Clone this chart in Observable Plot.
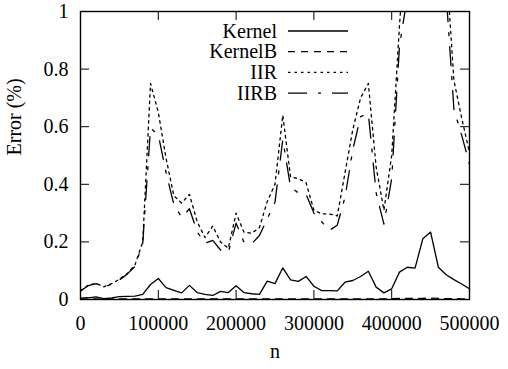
<!DOCTYPE html>
<html><head><meta charset="utf-8">
<script src="https://cdn.jsdelivr.net/npm/d3@7"></script>
<script src="https://cdn.jsdelivr.net/npm/@observablehq/plot@0.6"></script>
<style>body{margin:0;background:#fff} svg{display:block} svg text{font-family:"Liberation Serif","Times New Roman",serif !important;}</style>
</head><body><div id="chart"></div>
<script>
const n = [0,10000,20000,30000,40000,50000,60000,70000,80000,90000,
  100000,110000,120000,130000,140000,150000,160000,170000,180000,190000,
  200000,210000,220000,230000,240000,250000,260000,270000,280000,290000,
  300000,310000,320000,330000,340000,350000,360000,370000,380000,390000,
  400000,410000,420000,430000,440000,450000,460000,470000,480000,490000,500000];
const kernel = [0.005,0.006,0.009,0.003,0.006,0.010,0.011,0.012,0.018,0.052,
  0.073,0.041,0.032,0.023,0.049,0.024,0.018,0.014,0.028,0.024,
  0.048,0.024,0.020,0.018,0.064,0.055,0.110,0.068,0.063,0.080,
  0.046,0.031,0.031,0.030,0.060,0.066,0.080,0.098,0.043,0.023,
  0.037,0.095,0.112,0.109,0.211,0.234,0.112,0.086,0.069,0.054,0.037];
const kernelB = [0.001,0.001,0.002,0.001,0.002,0.002,0.002,0.002,0.002,0.002,
  0.002,0.002,0.002,0.002,0.002,0.002,0.002,0.002,0.002,0.002,
  0.002,0.002,0.002,0.002,0.002,0.002,0.002,0.002,0.002,0.002,
  0.002,0.002,0.002,0.002,0.002,0.002,0.002,0.002,0.002,0.002,
  0.003,0.004,0.004,0.004,0.004,0.005,0.004,0.003,0.003,0.002,0.002];
const iir = [0.030,0.050,0.056,0.044,0.055,0.070,0.090,0.120,0.200,0.750,
  0.650,0.490,0.360,0.335,0.365,0.270,0.215,0.255,0.200,0.178,
  0.300,0.234,0.230,0.250,0.340,0.400,0.640,0.425,0.420,0.405,
  0.310,0.297,0.297,0.290,0.440,0.590,0.700,0.750,0.460,0.310,
  0.500,0.950,1.350,1.600,1.800,1.700,1.400,1.170,0.760,0.630,0.510];
const iirb = [0.030,0.048,0.055,0.043,0.053,0.068,0.088,0.115,0.195,0.595,
  0.572,0.440,0.330,0.285,0.315,0.235,0.195,0.205,0.172,0.164,
  0.265,0.200,0.193,0.222,0.280,0.338,0.555,0.390,0.370,0.365,
  0.300,0.270,0.240,0.258,0.355,0.520,0.635,0.645,0.370,0.262,
  0.420,0.880,1.050,1.400,1.600,1.500,1.300,1.060,0.660,0.570,0.470];
const seriesNames = ["Kernel","KernelB","IIR","IIRB"];
const seriesValues = [kernel, kernelB, iir, iirb];
const seriesDash = [null, "7,6", "2.5,4", "19,11,3,11"];
const xTicks = [0,100000,200000,300000,400000,500000];
const xTickLabels = ["0","100000","200000","300000","400000","500000"];
const yTicks = [0,0.2,0.4,0.6,0.8,1];
const yTickLabels = ["0","0.2","0.4","0.6","0.8","1"];

const FONT = '"Liberation Serif", "Times New Roman", serif';
const W = 508, H = 369, mL = 80, mR = 39, mT = 11, mB = 70, tickLen = 9;
const plotW = W - mL - mR, plotH = H - mT - mB;

const lineMarks = seriesNames.map((name, s) =>
  Plot.lineY(n.map((x, i) => ({n: x, v: seriesValues[s][i]})), {
    x: "n", y: "v", clip: true, stroke: "black", strokeWidth: 1.3,
    strokeDasharray: seriesDash[s] || undefined
  }));

const chart = Plot.plot({
  width: W, height: H,
  marginLeft: mL, marginRight: mR, marginTop: mT, marginBottom: mB,
  style: {fontFamily: FONT, fontSize: "20px", background: "white", color: "black"},
  x: {domain: [0, 500000]},
  y: {domain: [0, 1]},
  marks: [
    Plot.axisX(xTicks, {tickSize: 0, tickPadding: 16, fontFamily: FONT, tickFormat: (d) => xTickLabels[xTicks.indexOf(d)], label: null}),
    Plot.axisY(yTicks, {tickSize: 0, tickPadding: 12, fontFamily: FONT, tickFormat: (d) => yTickLabels[yTicks.indexOf(d)], label: null}),
    Plot.ruleX(xTicks, {x: (d) => d, insetTop: plotH - tickLen, stroke: "black"}),
    Plot.ruleX(xTicks, {x: (d) => d, insetBottom: plotH - tickLen, stroke: "black"}),
    Plot.ruleY(yTicks, {y: (d) => d, insetRight: plotW - tickLen, stroke: "black"}),
    Plot.ruleY(yTicks, {y: (d) => d, insetLeft: plotW - tickLen, stroke: "black"}),
    ...lineMarks,
    Plot.frame({stroke: "black", strokeWidth: 1.4}),
    Plot.text(["Error (%)"], {frameAnchor: "left", rotate: -90, dx: -66, text: (d) => d, fill: "black", fontFamily: FONT}),
    Plot.text(["n"], {frameAnchor: "bottom", dy: 58, text: (d) => d, fill: "black", fontFamily: FONT})
  ]
});

// legend (inside, top right)
const svg = d3.select(chart);
const lg = svg.append("g").attr("font-family", FONT).attr("font-size", 20);
const legTextX = 277, legLineX1 = 288, legLineX2 = 348, legY0 = 31, legStep = 20.7;
seriesNames.forEach((name, s) => {
  const y = legY0 + s * legStep;
  lg.append("text").attr("x", legTextX).attr("y", y + 6.5).attr("text-anchor", "end").attr("fill", "black").text(name);
  lg.append("line").attr("x1", legLineX1).attr("x2", legLineX2).attr("y1", y).attr("y2", y)
    .attr("stroke", "black").attr("stroke-width", 1.3)
    .attr("stroke-dasharray", seriesDash[s] || null);
});
document.getElementById("chart").appendChild(chart);
</script></body></html>
